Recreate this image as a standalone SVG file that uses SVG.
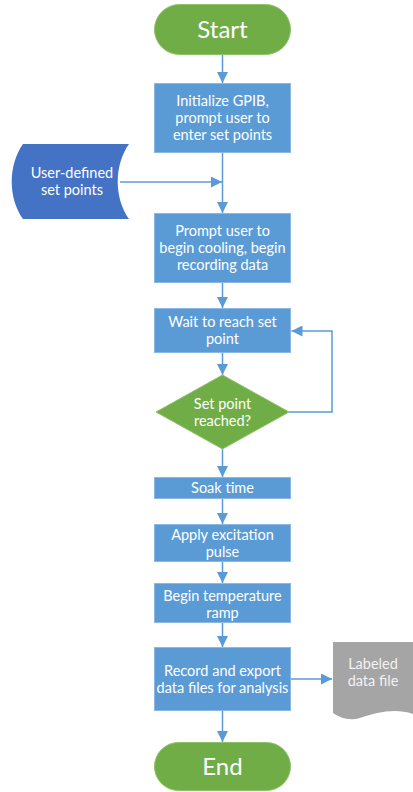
<svg xmlns="http://www.w3.org/2000/svg" width="413" height="792" viewBox="0 0 413 792">
<defs>
<marker id="ah" viewBox="0 0 10 10" refX="10" refY="5" markerWidth="11" markerHeight="11" markerUnits="userSpaceOnUse" orient="auto">
<path d="M0,0 L10,5 L0,10 Z" fill="#5B9BD5"/>
</marker>
<style>
.proc{fill:#5B9BD5;stroke:#8DB8E3;stroke-width:1}
.term{fill:#70AD47;stroke:#8DC26A;stroke-width:1}
.t{font-family:Lato,"Noto Sans",sans-serif;fill:#fff;text-anchor:middle;font-size:14.5px}
.big{font-size:24px}
.c{fill:none;stroke:#5B9BD5;stroke-width:1.5}
</style>
</defs>
<rect width="413" height="792" fill="#fff"/>
<g id="connectors">
<path class="c" d="M222.5,54 V83" marker-end="url(#ah)"/>
<path class="c" d="M222.5,153 V213" marker-end="url(#ah)"/>
<path class="c" d="M120,182 H222" marker-end="url(#ah)"/>
<path class="c" d="M222.5,282 V308" marker-end="url(#ah)"/>
<path class="c" d="M222.5,353 V375" marker-end="url(#ah)"/>
<path class="c" d="M289,412 H332 V331 H291.5" marker-end="url(#ah)"/>
<path class="c" d="M222.5,449 V477" marker-end="url(#ah)"/>
<path class="c" d="M222.5,498 V524" marker-end="url(#ah)"/>
<path class="c" d="M222.5,561 V583" marker-end="url(#ah)"/>
<path class="c" d="M222.5,622 V647" marker-end="url(#ah)"/>
<path class="c" d="M291,679 H332" marker-end="url(#ah)"/>
<path class="c" d="M222.5,710 V742" marker-end="url(#ah)"/>
</g>
<g id="start">
<rect class="term" x="154.5" y="4.5" width="136" height="50" rx="25"/>
<text class="t big" x="222.5" y="37.5">Start</text>
</g>
<g id="init">
<rect class="proc" x="154.5" y="83.5" width="136" height="69"/>
<text class="t" x="222.5" y="106">Initialize GPIB,</text>
<text class="t" x="222.5" y="123">prompt user to</text>
<text class="t" x="222.5" y="140">enter set points</text>
</g>
<g id="userdata">
<path d="M23,144 H129 C114,165 114,198 129,219 H23 C8,198 8,165 23,144 Z" fill="#4472C4"/>
<text class="t" x="72" y="178">User-defined</text>
<text class="t" x="72" y="195">set points</text>
</g>
<g id="prompt">
<rect class="proc" x="154.5" y="213.5" width="136" height="69"/>
<text class="t" x="222.5" y="236">Prompt user to</text>
<text class="t" x="222.5" y="253">begin cooling, begin</text>
<text class="t" x="222.5" y="270">recording data</text>
</g>
<g id="wait">
<rect class="proc" x="154.5" y="308.5" width="136" height="44"/>
<text class="t" x="222.5" y="327">Wait to reach set</text>
<text class="t" x="222.5" y="344">point</text>
</g>
<g id="decision">
<path class="term" d="M222.5,375 L289,412 L222.5,449 L156,412 Z"/>
<text class="t" x="222.5" y="409">Set point</text>
<text class="t" x="222.5" y="426">reached?</text>
</g>
<g id="soak">
<rect class="proc" x="154.5" y="477.5" width="136" height="21"/>
<text class="t" x="222.5" y="493">Soak time</text>
</g>
<g id="apply">
<rect class="proc" x="154.5" y="524.5" width="136" height="37"/>
<text class="t" x="222.5" y="540">Apply excitation</text>
<text class="t" x="222.5" y="557">pulse</text>
</g>
<g id="ramp">
<rect class="proc" x="154.5" y="583.5" width="136" height="39"/>
<text class="t" x="222.5" y="601">Begin temperature</text>
<text class="t" x="222.5" y="618">ramp</text>
</g>
<g id="record">
<rect class="proc" x="154.5" y="647.5" width="136" height="63"/>
<text class="t" x="222.5" y="676">Record and export</text>
<text class="t" x="222.5" y="693">data files for analysis</text>
</g>
<g id="datafile">
<path d="M333,642 H413 V714 C395,708 378,712 360,718 C350,721 340,718 333,713 Z" fill="#A5A5A5"/>
<text class="t" x="373" y="669" style="fill:#F2F2F2">Labeled</text>
<text class="t" x="373" y="686" style="fill:#F2F2F2">data file</text>
</g>
<g id="end">
<rect class="term" x="154.5" y="742.5" width="136" height="48" rx="24"/>
<text class="t big" x="222.5" y="774.5">End</text>
</g>
</svg>
